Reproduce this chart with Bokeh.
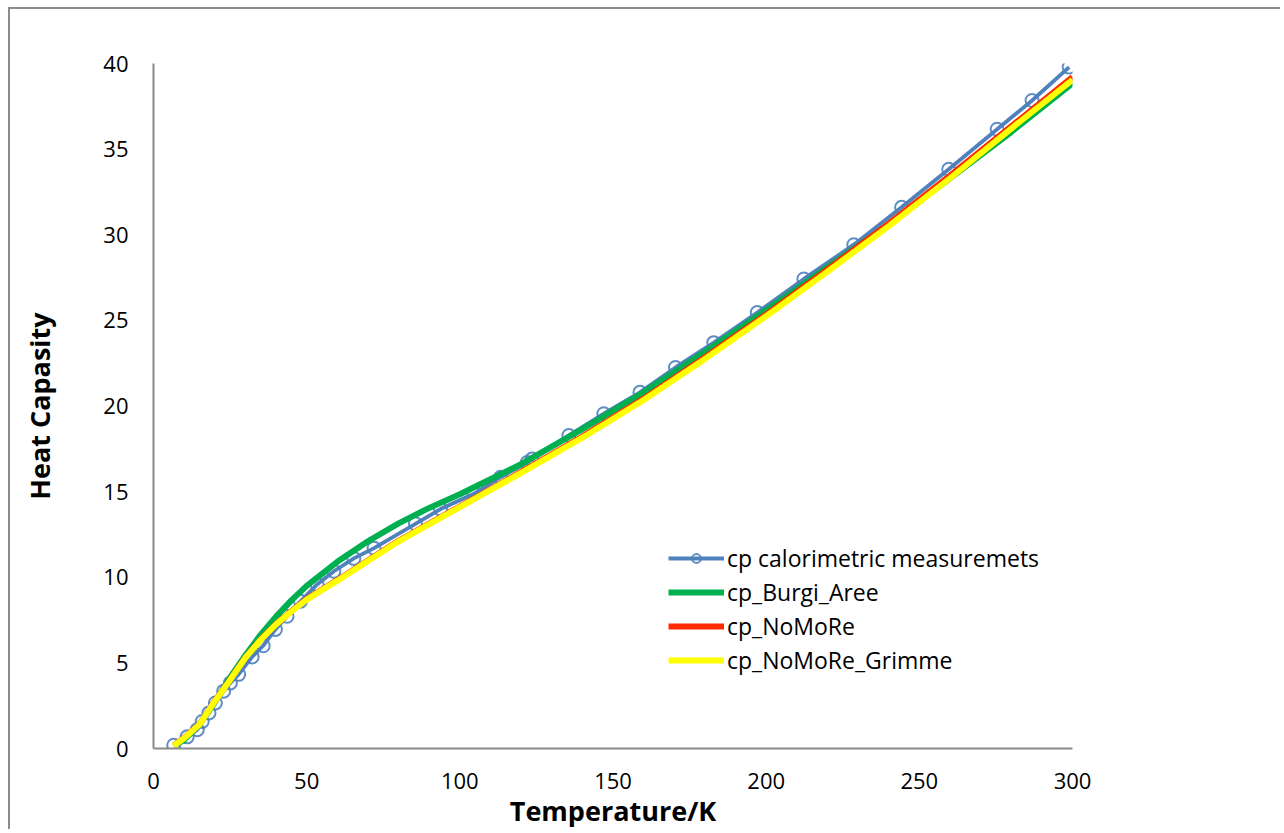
from bokeh.plotting import figure
from bokeh.embed import file_html
from bokeh.resources import INLINE
from bokeh.models import Legend, LegendItem, FixedTicker

# Measured heat capacity (calorimetric)
t_meas = [6.6, 11.0, 14.3, 15.9, 18.1, 20.2, 22.9, 25.1, 27.8, 32.2, 35.8, 39.8, 43.6, 48.0,
          53.4, 58.9, 65.4, 72.0, 85.5, 93.7, 104.6, 113.3, 122.0, 123.6, 135.6, 147.0,
          158.8, 170.4, 182.9, 197.1, 212.3, 228.6, 244.2, 259.6, 275.4, 286.8, 298.9]
cp_meas = [0.19, 0.68, 1.1, 1.58, 2.08, 2.66, 3.35, 3.83, 4.33, 5.35, 6.0, 6.95, 7.72, 8.6,
           9.58, 10.35, 11.1, 11.7, 13.12, 13.98, 14.87, 15.84, 16.7, 16.9, 18.28, 19.55,
           20.8, 22.25, 23.7, 25.46, 27.42, 29.42, 31.6, 33.82, 36.16, 37.84, 39.79]

# Model curves
t_model = [6.6, 10, 15, 20, 25, 30, 35, 40, 45, 50, 60, 70, 80, 90, 100, 120, 140, 160, 180,
           200, 220, 240, 260, 280, 300]
cp_burgi = [0.15, 0.5, 1.4, 2.7, 4.15, 5.45, 6.65, 7.7, 8.65, 9.5, 10.9, 12.1, 13.15, 14.05,
            14.85, 16.6, 18.65, 20.8, 23.15, 25.6, 28.1, 30.6, 33.3, 36.0, 38.85]
cp_nomore = [0.17, 0.62, 1.42, 2.77, 4.02, 5.32, 6.37, 7.27, 8.02, 8.72, 9.83, 10.98, 12.13,
             13.13, 14.13, 16.15, 18.22, 20.43, 22.85, 25.35, 27.97, 30.65, 33.45, 36.33, 39.2]
cp_grimme = [0.15, 0.6, 1.4, 2.75, 4.0, 5.3, 6.35, 7.25, 8.0, 8.7, 9.8, 10.95, 12.1, 13.1,
             14.1, 16.1, 18.15, 20.35, 22.75, 25.25, 27.85, 30.5, 33.3, 36.2, 39.05]

x_ticks = [0, 50, 100, 150, 200, 250, 300]
y_ticks = [0, 5, 10, 15, 20, 25, 30, 35, 40]

FONT = "Open Sans"

p = figure(width=1272, height=822, output_backend="svg", toolbar_location=None,
           x_range=(0, 300), y_range=(0, 40),
           min_border_left=143, min_border_right=210, min_border_top=54, min_border_bottom=83)
p.styles = {"margin-top": "7px", "margin-left": "8px",
            "border-top": "2px solid #8c8c8c", "border-left": "2px solid #8c8c8c"}

p.grid.visible = False
p.outline_line_color = None

for ax in (p.xaxis[0], p.yaxis[0]):
    ax.axis_line_color = "#8a8a8a"
    ax.axis_line_width = 2
    ax.major_tick_line_color = None
    ax.minor_tick_line_color = None
    ax.major_label_text_font = FONT
    ax.major_label_text_font_size = "22px"
    ax.major_label_text_color = "#000000"
    ax.axis_label_text_font = FONT
    ax.axis_label_text_font_size = "27px"
    ax.axis_label_text_font_style = "bold"
    ax.axis_label_text_color = "#000000"

p.xaxis.ticker = FixedTicker(ticks=x_ticks)
p.yaxis.ticker = FixedTicker(ticks=y_ticks)
p.xaxis.major_label_standoff = 18
p.yaxis.major_label_standoff = 19
p.xaxis.axis_label = "Temperature/K"
p.yaxis.axis_label = "Heat Capasity"
p.xaxis.axis_label_standoff = 0
p.yaxis.axis_label_standoff = 42

blue = "#4F81BD"
r_ml = p.line(t_meas, cp_meas, line_color=blue, line_width=3.8)
r_ms = p.scatter(t_meas, cp_meas, marker="circle", size=13, line_color=blue,
                 line_width=2, fill_alpha=0, line_alpha=0.9)
r_g = p.line(t_model, cp_burgi, line_color="#00B050", line_width=6)
r_r = p.line(t_model, cp_nomore, line_color="#FF2A00", line_width=6)
r_y = p.line(t_model, cp_grimme, line_color="#FFFF00", line_width=6)

legend = Legend(items=[
    LegendItem(label="cp calorimetric measuremets", renderers=[r_ml, r_ms]),
    LegendItem(label="cp_Burgi_Aree", renderers=[r_g]),
    LegendItem(label="cp_NoMoRe", renderers=[r_r]),
    LegendItem(label="cp_NoMoRe_Grimme", renderers=[r_y]),
], location=(515, 72))
legend.background_fill_alpha = 0
legend.border_line_color = None
legend.padding = 0
legend.margin = 0
legend.spacing = 2
legend.glyph_width = 56
legend.glyph_height = 22
legend.label_height = 22
legend.label_standoff = 3
legend.label_text_font = FONT
legend.label_text_font_size = "23px"
legend.label_text_color = "#000000"
p.add_layout(legend)

open("out.html", "w").write(file_html(p, INLINE))
